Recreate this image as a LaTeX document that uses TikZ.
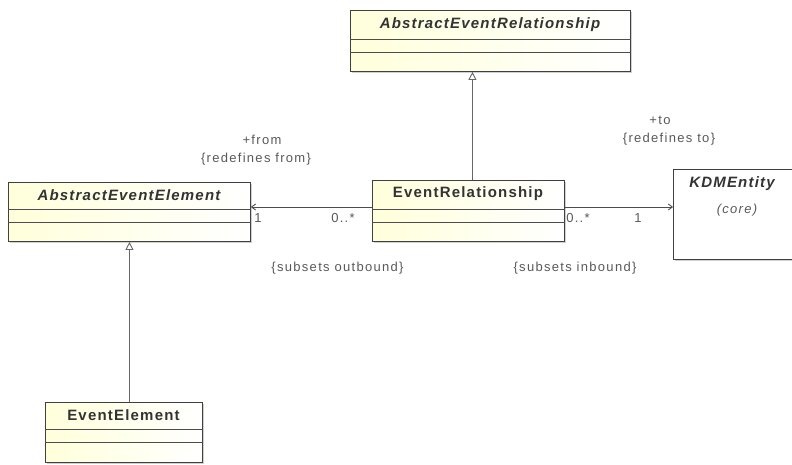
\documentclass[tikz,border=0pt]{standalone}
\usepackage{fontspec}
\setmainfont{Liberation Sans}
\newfontfamily\lblfont[LetterSpace=10]{Liberation Sans}
\newfontfamily\ttlfont[LetterSpace=8]{Liberation Sans}
\usetikzlibrary{arrows.meta,calc}
\begin{document}
\begin{tikzpicture}[x=1pt,y=-1pt,
  classbox/.style={draw=black!75, line width=0.9pt, left color=yellow!14, right color=white, inner sep=0pt, anchor=north west},
  shadowbox/.style={fill=black!18, draw=none, inner sep=0pt, anchor=north west},
  cname/.style={font=\ttlfont\fontsize{15}{17}\selectfont\bfseries, text=black!80},
  aname/.style={font=\ttlfont\fontsize{15}{17}\selectfont\bfseries\itshape, text=black!80},
  lbl/.style={font=\lblfont\fontsize{13}{15}\selectfont, text=black!65, inner sep=1pt},
  gen/.style={draw=black!60, line width=0.9pt, -{Triangle[open,length=8pt,width=8pt]}},
  assoc/.style={draw=black!70, line width=0.9pt, -{Straight Barb[length=4pt,width=6pt]}},
  sep/.style={draw=black!70, line width=0.9pt}]
\useasboundingbox (0,0) rectangle (792,464);
\clip (0,0) rectangle (792,464);
% shadows
\node[shadowbox, minimum width=280pt, minimum height=61pt] at (352,12) {};
\node[shadowbox, minimum width=242pt, minimum height=59pt] at (10,184) {};
\node[shadowbox, minimum width=192pt, minimum height=61pt] at (374,182) {};
\node[shadowbox, minimum width=157pt, minimum height=60pt] at (47,404) {};
\node[shadowbox, minimum width=130pt, minimum height=90pt] at (675,171) {};
% classes
\node[classbox, minimum width=280pt, minimum height=61pt] (aer) at (350,10) {};
\node[aname] (aert) at (490,25) {AbstractEventRelationship};
\draw[sep] ($(aer.north west)+(0,29)$) -- ($(aer.north east)+(0,29)$);
\draw[sep] ($(aer.north west)+(0,42)$) -- ($(aer.north east)+(0,42)$);

\node[classbox, minimum width=242pt, minimum height=59pt] (aee) at (8,182) {};
\node[aname] (aeet) at (129,195) {AbstractEventElement};
\draw[sep] ($(aee.north west)+(0,27)$) -- ($(aee.north east)+(0,27)$);
\draw[sep] ($(aee.north west)+(0,40)$) -- ($(aee.north east)+(0,40)$);

\node[classbox, minimum width=192pt, minimum height=61pt] (er) at (372,180) {};
\node[cname] (ert) at (468,194) {EventRelationship};
\draw[sep] ($(er.north west)+(0,29)$) -- ($(er.north east)+(0,29)$);
\draw[sep] ($(er.north west)+(0,42)$) -- ($(er.north east)+(0,42)$);

\node[classbox, minimum width=157pt, minimum height=60pt] (ee) at (45,402) {};
\node[cname] (eet) at (123.5,415) {EventElement};
\draw[sep] ($(ee.north west)+(0,27)$) -- ($(ee.north east)+(0,27)$);
\draw[sep] ($(ee.north west)+(0,40)$) -- ($(ee.north east)+(0,40)$);

\node[classbox, left color=white, right color=white, minimum width=130pt, minimum height=90pt] (kdm) at (673,169) {};
\node[aname] (kdmt) at (732,184) {KDMEntity};
\node[lbl, font=\lblfont\fontsize{13}{15}\selectfont\itshape] (core) at (737,210) {(core)};

% generalizations
\draw[gen] ([xshift=4pt]er.north) -- ([xshift=4pt]er.north |- aer.south);
\draw[gen] (aee.south |- ee.north) -- (aee.south);

% associations
\coordinate (lj) at ($(er.north west)+(0,27)$);
\coordinate (rj) at ($(er.north east)+(0,27)$);
\draw[assoc] (lj) -- (lj -| aee.east);
\draw[assoc] (rj) -- (rj -| kdm.west);

% labels
\node[lbl] (m1) at (258,218) {1};
\node[lbl] (m2) at (343,218) {0..*};
\node[lbl] (fromr) at (262,140) {+from};
\node[lbl] (fromc) at (256,159) {\{redefines from\}};
\node[lbl] (outb) at (337.5,268) {\{subsets outbound\}};
\node[lbl] (m3) at (578,218) {0..*};
\node[lbl] (m4) at (638,218) {1};
\node[lbl] (tor) at (660,120) {+to};
\node[lbl] (toc) at (669,139) {\{redefines to\}};
\node[lbl] (inb) at (575,268) {\{subsets inbound\}};
\end{tikzpicture}
\end{document}
